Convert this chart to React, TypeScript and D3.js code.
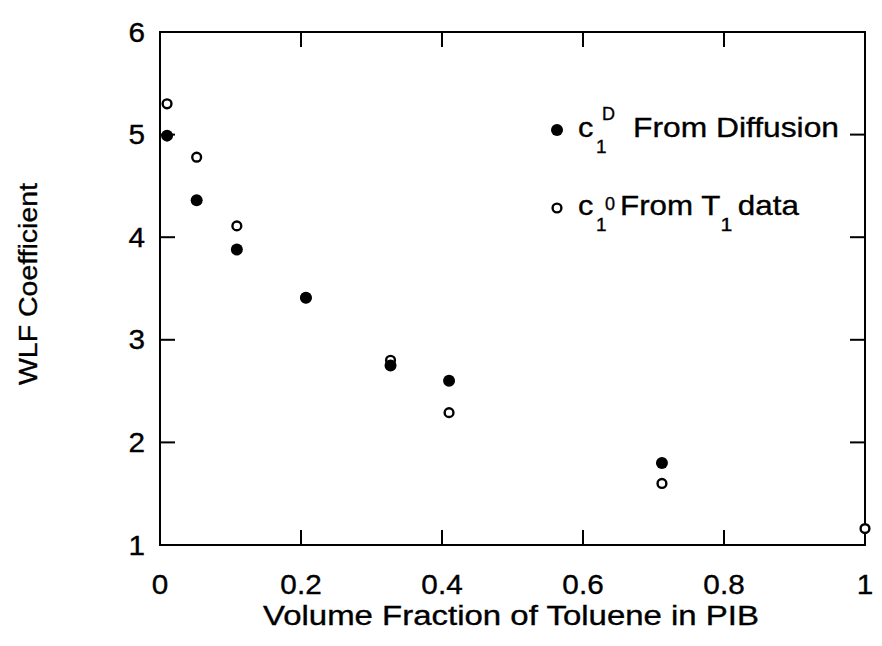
import React from "react";
import * as d3 from "d3";

const fractionD = [0.01, 0.052, 0.109, 0.207, 0.327, 0.41, 0.712];
const c1D = [4.99, 4.36, 3.88, 3.41, 2.75, 2.6, 1.8];

const fraction0 = [0.01, 0.052, 0.109, 0.207, 0.327, 0.41, 0.712, 1.0];
const c10 = [5.3, 4.78, 4.11, 3.41, 2.8, 2.29, 1.6, 1.16];

const xTicks = [0, 0.2, 0.4, 0.6, 0.8, 1];
const xTickLabels = ["0", "0.2", "0.4", "0.6", "0.8", "1"];
const yTicks = [1, 2, 3, 4, 5, 6];
const yTickLabels = ["1", "2", "3", "4", "5", "6"];

const W = 882;
const H = 646;
const L = 160, R = 865, T = 32, B = 545;
const FONT = "'Liberation Sans', Arial, Helvetica, sans-serif";
const SX = 1.1;

export default function App() {
  const x = d3.scaleLinear().domain([0, 1]).range([L, R]);
  const y = d3.scaleLinear().domain([1, 6]).range([B, T]);
  const tl = 15;
  const inner = (v: number) => v > 0.001 && v < 0.999;
  const txt = { fill: "#000", stroke: "#000", strokeWidth: 0.35 };
  return (
    <svg width={W} height={H} style={{ position: "absolute", left: 0, top: 0, background: "#fff" }} fontFamily={FONT}>
      <rect x={0} y={0} width={W} height={H} fill="#fff" />
      <rect x={L} y={T} width={R - L} height={B - T} fill="none" stroke="#000" strokeWidth={2} />
      {xTicks.filter(inner).map((t) => (
        <g key={"xt" + t}>
          <line x1={x(t)} x2={x(t)} y1={B} y2={B - tl} stroke="#000" strokeWidth={2} />
          <line x1={x(t)} x2={x(t)} y1={T} y2={T + tl} stroke="#000" strokeWidth={2} />
        </g>
      ))}
      {yTicks.filter((t) => t > 1 && t < 6).map((t) => (
        <g key={"yt" + t}>
          <line x1={L} x2={L + tl} y1={y(t)} y2={y(t)} stroke="#000" strokeWidth={2} />
          <line x1={R} x2={R - tl} y1={y(t)} y2={y(t)} stroke="#000" strokeWidth={2} />
        </g>
      ))}
      {xTicks.map((t, i) => (
        <text key={"xl" + t} transform={`translate(${x(t)},594) scale(${SX},1)`} textAnchor="middle" fontSize={27} {...txt}>
          {xTickLabels[i]}
        </text>
      ))}
      {yTicks.map((t, i) => (
        <text key={"yl" + t} transform={`translate(145,${y(t) + 9.5}) scale(${SX},1)`} textAnchor="end" fontSize={27} {...txt}>
          {yTickLabels[i]}
        </text>
      ))}
      <text x={511} y={625} textAnchor="middle" fontSize={27} textLength={496} lengthAdjust="spacingAndGlyphs" {...txt}>
        Volume Fraction of Toluene in PIB
      </text>
      <text transform="translate(37,284) rotate(-90)" textAnchor="middle" fontSize={26} textLength={202} lengthAdjust="spacingAndGlyphs" {...txt}>
        WLF Coefficient
      </text>
      {fraction0.map((f, i) => (
        <circle key={"o" + i} cx={x(f)} cy={y(c10[i])} r={4.4} fill="#fff" stroke="#000" strokeWidth={2.4} />
      ))}
      {fractionD.map((f, i) => (
        <circle key={"f" + i} cx={x(f)} cy={y(c1D[i])} r={6} fill="#000" />
      ))}
      {/* legend */}
      <circle cx={557} cy={130} r={6} fill="#000" />
      <text transform={`translate(578,137) scale(${SX},1)`} fontSize={28} {...txt}>c</text>
      <text x={596} y={153} fontSize={19} {...txt}>1</text>
      <text x={602} y={120} fontSize={18} {...txt}>D</text>
      <text x={633} y={137} fontSize={28} textLength={206} lengthAdjust="spacingAndGlyphs" {...txt}>From Diffusion</text>
      <circle cx={557} cy={208} r={4.4} fill="#fff" stroke="#000" strokeWidth={2.4} />
      <text transform={`translate(578,215) scale(${SX},1)`} fontSize={28} {...txt}>c</text>
      <text x={596} y={231} fontSize={19} {...txt}>1</text>
      <text x={605} y={210} fontSize={18} {...txt}>0</text>
      <text transform={`translate(620,215) scale(1.12,1)`} fontSize={28} {...txt}>
        <tspan>From T</tspan>
        <tspan fontSize={19} dy={16}>1</tspan>
        <tspan dy={-16} dx={5}>data</tspan>
      </text>
    </svg>
  );
}
